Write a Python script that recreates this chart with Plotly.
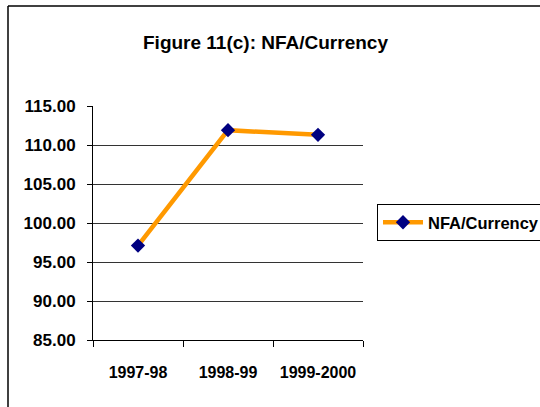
import plotly.graph_objects as go

years = ['1997-98', '1998-99', '1999-2000']
nfa_currency = [97.1, 111.9, 111.3]
ytick_vals = [85, 90, 95, 100, 105, 110, 115]
ytick_text = ['%.2f' % v for v in ytick_vals]

FONT = 'Liberation Sans, Arial, sans-serif'

fig = go.Figure()
fig.add_trace(go.Scatter(
    x=years, y=nfa_currency, name='<b>NFA/Currency</b>', mode='lines+markers',
    line=dict(color='#FF9900', width=4.5),
    marker=dict(symbol='diamond', color='#000080', size=11),
))

# outer chart border (only left and top edges visible in the frame)
W, H = 540, 407
L, R, T, B = 93, 177, 106, 67
pw, ph = W - L - R, H - T - B
def px(x):
    return (x - L) / pw
def py(y):
    return (H - B - y) / ph
fig.add_shape(type='line', xref='paper', yref='paper', x0=px(8), x1=px(8), y0=py(6), y1=py(420),
              line=dict(color='black', width=1.5))
fig.add_shape(type='line', xref='paper', yref='paper', x0=px(8), x1=px(560), y0=py(6), y1=py(6),
              line=dict(color='black', width=1.5))

fig.update_layout(
    width=W, height=H,
    margin=dict(l=L, r=R, t=T, b=B, autoexpand=False),
    paper_bgcolor='white', plot_bgcolor='white',
    font=dict(family=FONT, color='black'),
    title=dict(text='<b>Figure 11(c): NFA/Currency</b>', x=265.5 / W, xanchor='center',
               y=1 - 42 / H, yanchor='middle', font=dict(size=19, family=FONT)),
    xaxis=dict(type='category', range=[-0.5, 2.5], showgrid=False, showline=True, linecolor='black',
               linewidth=1, ticks='outside', tickson='boundaries', ticklen=6, tickcolor='black',
               tickfont=dict(size=16, family=FONT), ticklabelstandoff=18, tickangle=0,
               automargin=False, tickvals=years, ticktext=['<b>%s</b>' % y for y in years]),
    yaxis=dict(range=[85, 115], tickvals=ytick_vals, ticktext=['<b>%s</b>' % t for t in ytick_text],
               showgrid=True, gridcolor='#333333', gridwidth=1, showline=True, linecolor='black',
               linewidth=1, ticks='outside', ticklen=5, tickcolor='black', zeroline=False,
               automargin=False, tickfont=dict(size=17, family=FONT), ticklabelstandoff=8),
    showlegend=True,
    legend=dict(x=px(377), xanchor='left', y=py(204), yanchor='top', bordercolor='black', borderwidth=1,
                font=dict(size=16.5, family=FONT), itemwidth=40, bgcolor='white',
                tracegroupgap=0),
)

fig.write_html("out.html", config={'displayModeBar': False},
               post_script="document.body.style.margin='0';")
